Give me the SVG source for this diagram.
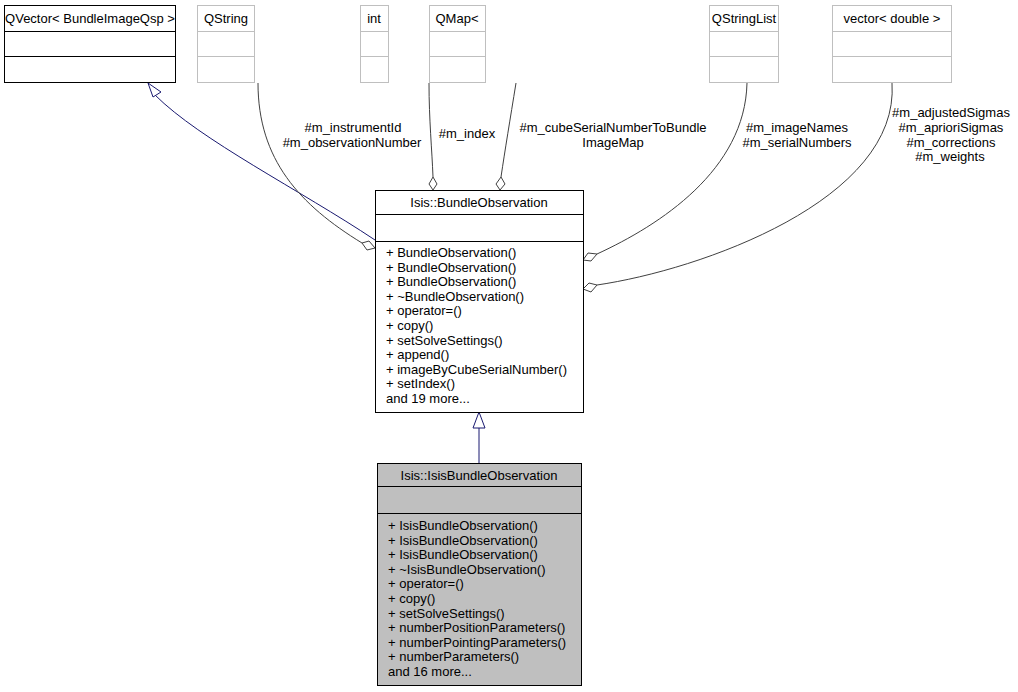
<svg xmlns="http://www.w3.org/2000/svg" width="1018" height="692" viewBox="0 0 1018 692">
<style>
text{font-family:"Liberation Sans",Arial,sans-serif;font-size:13px;fill:#000}
.c{text-anchor:middle}
.box{fill:#fff;stroke:#000;stroke-width:1}
.gbox{fill:#fff;stroke:#bfbfbf;stroke-width:1}
.e{fill:none;stroke:#404040;stroke-width:1}
.inh{fill:none;stroke:#191970;stroke-width:1}
.dia{fill:#fff;stroke:#404040}
.tri{fill:#fff;stroke:#191970}
</style>
<rect width="1018" height="692" fill="#fff"/>
<g id="connectors">
<path class="inh" d="M375,240 C300,190 200,140 155,95"/>
<polygon class="tri" points="148,83 161,92 153,97"/>
<path class="e" d="M258,83 C258,160 300,205 362,243"/>
<polygon class="dia" points="375,248 367,250 362,243 369,241"/>
<path class="e" d="M429,83 C429,120 432,150 433,177"/>
<polygon class="dia" points="433,190 429,184 433,177 437,184"/>
<path class="e" d="M516,83 C510,120 505,150 501,177"/>
<polygon class="dia" points="500,190 496,184 501,177 505,184"/>
<path class="e" d="M747,83 C745,170 660,225 597,254"/>
<polygon class="dia" points="583,260 588,253 597,254 591,261"/>
<path class="e" d="M892,83 C900,200 700,270 597,285"/>
<polygon class="dia" points="583,289 589,283 597,285 591,292"/>
<path class="inh" d="M479,463 L479,428"/>
<polygon class="tri" points="479,412 485,428 473,428"/>
<text class="c" x="353" y="132">#m_instrumentId</text>
<text class="c" x="352" y="147">#m_observationNumber</text>
<text class="c" x="467" y="138">#m_index</text>
<text class="c" x="613" y="132">#m_cubeSerialNumberToBundle</text>
<text class="c" x="613" y="147">ImageMap</text>
<text class="c" x="797" y="132">#m_imageNames</text>
<text class="c" x="797" y="147">#m_serialNumbers</text>
<text class="c" x="951" y="117">#m_adjustedSigmas</text>
<text class="c" x="951" y="132">#m_aprioriSigmas</text>
<text class="c" x="951" y="147">#m_corrections</text>
<text class="c" x="950" y="161">#m_weights</text>
</g>
<g id="qvector">
<rect class="box" x="4.5" y="5.5" width="171" height="77"/>
<path d="M4.5,31.5H175.5M4.5,56.5H175.5" stroke="#000"/>
<text class="c" x="90" y="23">QVector&lt; BundleImageQsp &gt;</text>
</g>
<g id="qstring">
<rect class="gbox" x="197.5" y="5.5" width="57" height="77"/>
<path d="M197.5,31.5H254.5M197.5,56.5H254.5" stroke="#bfbfbf"/>
<text class="c" x="226" y="23">QString</text>
</g>
<g id="int">
<rect class="gbox" x="360.5" y="5.5" width="28" height="77"/>
<path d="M360.5,31.5H388.5M360.5,56.5H388.5" stroke="#bfbfbf"/>
<text class="c" x="374" y="23">int</text>
</g>
<g id="qmap">
<rect class="gbox" x="429.5" y="5.5" width="56" height="77"/>
<path d="M429.5,31.5H485.5M429.5,56.5H485.5" stroke="#bfbfbf"/>
<text class="c" x="457" y="23">QMap&lt;</text>
</g>
<g id="qstringlist">
<rect class="gbox" x="709.5" y="5.5" width="69" height="77"/>
<path d="M709.5,31.5H778.5M709.5,56.5H778.5" stroke="#bfbfbf"/>
<text class="c" x="744" y="23">QStringList</text>
</g>
<g id="vector">
<rect class="gbox" x="832.5" y="5.5" width="119" height="77"/>
<path d="M832.5,31.5H951.5M832.5,56.5H951.5" stroke="#bfbfbf"/>
<text class="c" x="892" y="23">vector&lt; double &gt;</text>
</g>
<g id="bundleobservation">
<rect class="box" x="375.5" y="190.5" width="208" height="222"/>
<path d="M375.5,214.5H583.5M375.5,241.5H583.5" stroke="#000"/>
<text class="c" x="479" y="207">Isis::BundleObservation</text>
<text x="386" y="257">+ BundleObservation()</text>
<text x="386" y="271.6">+ BundleObservation()</text>
<text x="386" y="286.2">+ BundleObservation()</text>
<text x="386" y="300.8">+ ~BundleObservation()</text>
<text x="386" y="315.4">+ operator=()</text>
<text x="386" y="330">+ copy()</text>
<text x="386" y="344.6">+ setSolveSettings()</text>
<text x="386" y="359.2">+ append()</text>
<text x="386" y="373.8">+ imageByCubeSerialNumber()</text>
<text x="386" y="388.4">+ setIndex()</text>
<text x="386" y="403">and 19 more...</text>
</g>
<g id="isisbundleobservation">
<rect x="377.5" y="463.5" width="204" height="222" fill="#bfbfbf" stroke="#000"/>
<path d="M377.5,486.5H581.5M377.5,513.5H581.5" stroke="#000"/>
<text class="c" x="479" y="480">Isis::IsisBundleObservation</text>
<text x="388" y="530">+ IsisBundleObservation()</text>
<text x="388" y="544.6">+ IsisBundleObservation()</text>
<text x="388" y="559.2">+ IsisBundleObservation()</text>
<text x="388" y="573.8">+ ~IsisBundleObservation()</text>
<text x="388" y="588.4">+ operator=()</text>
<text x="388" y="603">+ copy()</text>
<text x="388" y="617.6">+ setSolveSettings()</text>
<text x="388" y="632.2">+ numberPositionParameters()</text>
<text x="388" y="646.8">+ numberPointingParameters()</text>
<text x="388" y="661.4">+ numberParameters()</text>
<text x="388" y="676">and 16 more...</text>
</g>
</svg>
